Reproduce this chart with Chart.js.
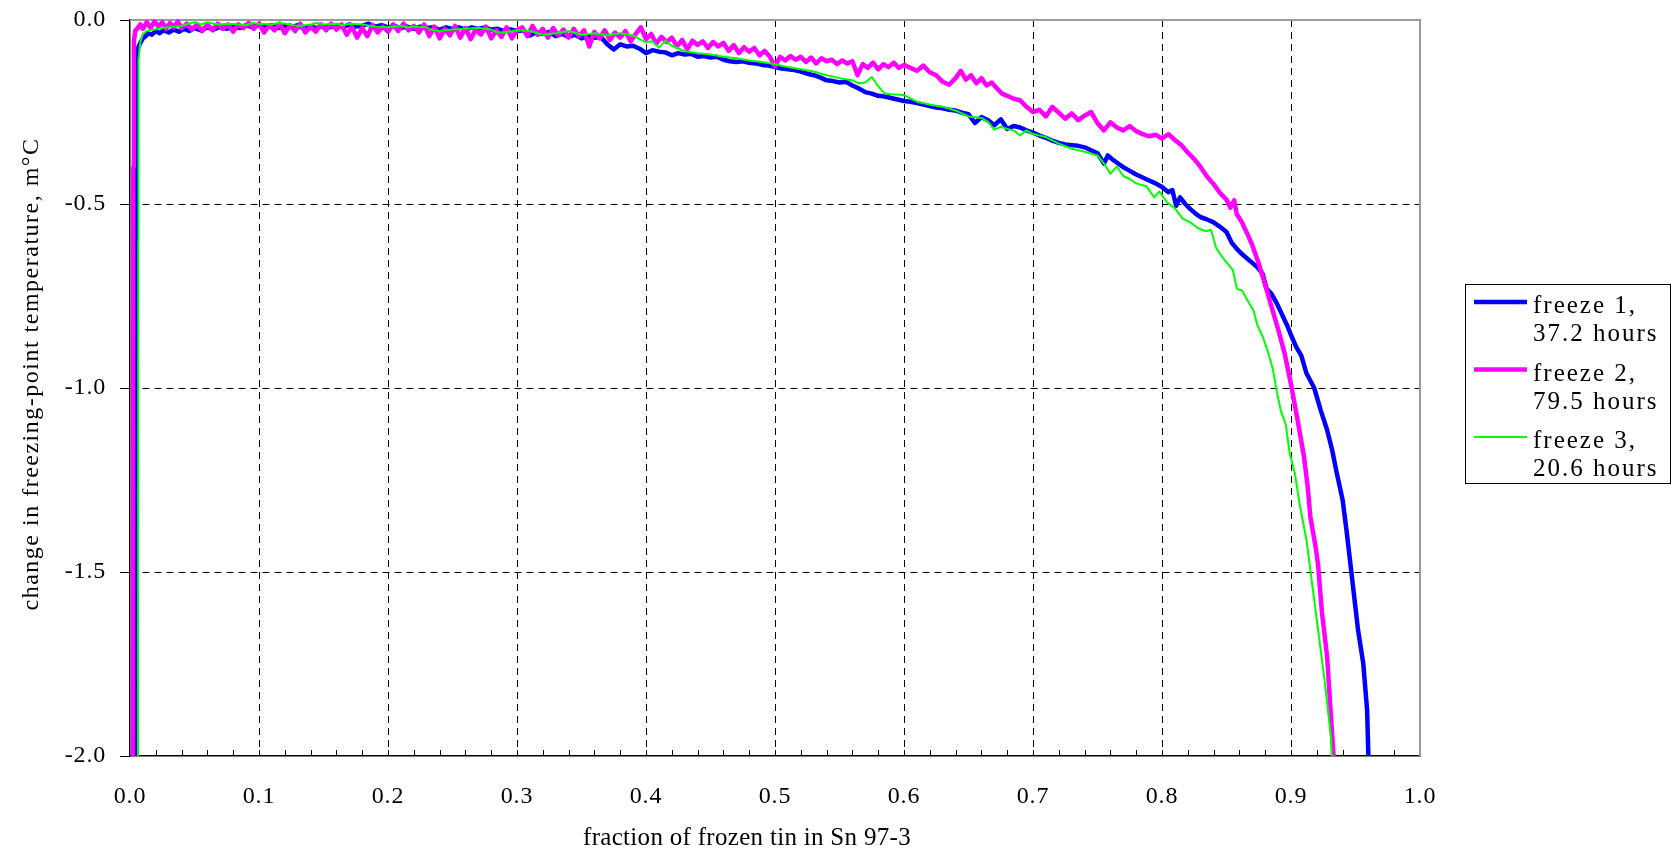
<!DOCTYPE html>
<html>
<head>
<meta charset="utf-8">
<script src="https://cdn.jsdelivr.net/npm/chart.js@4.4.1/dist/chart.umd.min.js"></script>
<style>
	html, body { margin: 0; padding: 0; background: #fff; }
	#wrap { width: 1675px; height: 855px; }
</style>
</head>
<body>
<div id="wrap"><canvas id="freezeChart" width="1675" height="855"></canvas></div>
<script>
"use strict"

// freeze 1, 37.2 hours  [fraction frozen, change in mK]
const freeze1 = [
	[0.0045,-2.1],[0.0047,-0.6],[0.005,-0.12],[0.0055,-0.085],[0.006,-0.078],[0.008,-0.062],[0.010,-0.05],[0.012,-0.044],
	[0.014,-0.036],[0.017,-0.04],[0.020,-0.03],[0.023,-0.036],[0.026,-0.028],[0.030,-0.034],[0.034,-0.026],[0.038,-0.032],
	[0.042,-0.024],[0.046,-0.03],[0.050,-0.022],[0.055,-0.028],[0.060,-0.02],[0.065,-0.026],[0.070,-0.018],[0.075,-0.024],
	[0.080,-0.016],[0.085,-0.022],[0.090,-0.014],[0.095,-0.02],[0.100,-0.012],[0.105,-0.018],[0.110,-0.014],[0.115,-0.022],
	[0.120,-0.016],[0.125,-0.02],[0.130,-0.014],[0.135,-0.024],[0.140,-0.018],[0.145,-0.022],[0.150,-0.016],[0.155,-0.02],
	[0.160,-0.014],[0.165,-0.02],[0.170,-0.012],[0.175,-0.018],[0.180,-0.016],[0.185,-0.01],[0.190,-0.018],[0.195,-0.014],
	[0.200,-0.02],[0.205,-0.016],[0.210,-0.022],[0.215,-0.018],[0.220,-0.024],[0.225,-0.018],[0.230,-0.022],[0.235,-0.02],
	[0.240,-0.026],[0.245,-0.02],[0.250,-0.024],[0.255,-0.02],[0.260,-0.026],[0.265,-0.02],[0.270,-0.024],[0.275,-0.02],
	[0.280,-0.026],[0.285,-0.024],[0.290,-0.03],[0.295,-0.026],[0.300,-0.03],[0.305,-0.028],[0.310,-0.042],[0.315,-0.034],
	[0.320,-0.038],[0.325,-0.032],[0.330,-0.044],[0.335,-0.038],[0.340,-0.046],[0.345,-0.04],[0.350,-0.05],[0.355,-0.044],
	[0.360,-0.048],[0.365,-0.046],[0.370,-0.066],[0.375,-0.08],[0.380,-0.066],[0.385,-0.072],[0.390,-0.07],[0.395,-0.078],
	[0.400,-0.09],[0.405,-0.082],[0.410,-0.086],[0.415,-0.088],[0.420,-0.096],[0.425,-0.09],[0.430,-0.094],[0.435,-0.092],
	[0.440,-0.1],[0.445,-0.098],[0.450,-0.102],[0.455,-0.1],[0.460,-0.108],[0.465,-0.112],[0.470,-0.114],[0.475,-0.112],
	[0.480,-0.116],[0.485,-0.118],[0.490,-0.122],[0.495,-0.124],[0.500,-0.128],[0.505,-0.132],[0.510,-0.134],[0.515,-0.136],
	[0.520,-0.14],[0.525,-0.146],[0.530,-0.15],[0.535,-0.156],[0.540,-0.164],[0.545,-0.166],[0.550,-0.17],[0.555,-0.168],
	[0.560,-0.178],[0.565,-0.186],[0.570,-0.196],[0.575,-0.2],[0.580,-0.206],[0.585,-0.208],[0.590,-0.212],[0.595,-0.216],
	[0.600,-0.22],[0.605,-0.222],[0.610,-0.226],[0.615,-0.23],[0.620,-0.234],[0.625,-0.238],[0.630,-0.24],[0.635,-0.244],
	[0.640,-0.246],[0.645,-0.252],[0.650,-0.256],[0.655,-0.28],[0.660,-0.264],[0.665,-0.272],[0.670,-0.286],[0.675,-0.27],
	[0.680,-0.296],[0.685,-0.288],[0.690,-0.292],[0.695,-0.3],[0.700,-0.306],[0.705,-0.314],[0.710,-0.32],[0.715,-0.328],
	[0.720,-0.334],[0.725,-0.338],[0.730,-0.34],[0.735,-0.342],[0.740,-0.346],[0.745,-0.354],[0.750,-0.362],[0.755,-0.39],
	[0.758,-0.368],[0.762,-0.38],[0.766,-0.39],[0.770,-0.4],[0.775,-0.41],[0.780,-0.42],[0.785,-0.428],[0.790,-0.436],
	[0.795,-0.444],[0.800,-0.454],[0.805,-0.468],[0.808,-0.462],[0.811,-0.505],[0.814,-0.482],[0.818,-0.5],[0.822,-0.514],
	[0.826,-0.526],[0.830,-0.536],[0.835,-0.542],[0.840,-0.55],[0.845,-0.562],[0.850,-0.576],[0.854,-0.605],[0.858,-0.622],
	[0.862,-0.636],[0.866,-0.648],[0.870,-0.66],[0.874,-0.672],[0.878,-0.69],[0.881,-0.73],[0.885,-0.745],[0.889,-0.77],
	[0.893,-0.8],[0.897,-0.83],[0.900,-0.856],[0.904,-0.888],[0.908,-0.912],[0.912,-0.96],[0.918,-1.0],[0.923,-1.06],
	[0.928,-1.114],[0.932,-1.17],[0.935,-1.223],[0.940,-1.304],[0.943,-1.386],[0.946,-1.476],[0.949,-1.567],[0.952,-1.658],
	[0.956,-1.748],[0.959,-1.875],[0.960,-2.0],[0.961,-2.1],
]

// freeze 2, 79.5 hours
const freeze2 = [
	[0.0022,-2.1],[0.0025,-0.4],[0.003,-0.06],[0.004,-0.03],[0.006,-0.022],[0.008,-0.012],[0.010,-0.024],[0.013,-0.006],
	[0.016,-0.022],[0.019,-0.004],[0.022,-0.018],[0.025,-0.006],[0.028,-0.024],[0.031,-0.008],[0.034,-0.02],[0.037,-0.004],
	[0.040,-0.022],[0.044,-0.01],[0.048,-0.026],[0.052,-0.012],[0.056,-0.03],[0.060,-0.012],[0.064,-0.028],[0.068,-0.01],
	[0.072,-0.024],[0.076,-0.012],[0.080,-0.032],[0.084,-0.012],[0.088,-0.022],[0.092,-0.008],[0.096,-0.024],[0.100,-0.01],
	[0.104,-0.034],[0.108,-0.014],[0.112,-0.028],[0.116,-0.01],[0.120,-0.036],[0.124,-0.014],[0.128,-0.03],[0.132,-0.01],
	[0.136,-0.034],[0.140,-0.018],[0.144,-0.032],[0.148,-0.012],[0.152,-0.028],[0.156,-0.01],[0.160,-0.026],[0.164,-0.012],
	[0.168,-0.04],[0.172,-0.018],[0.176,-0.048],[0.180,-0.022],[0.184,-0.044],[0.188,-0.014],[0.192,-0.034],[0.196,-0.018],
	[0.200,-0.032],[0.204,-0.012],[0.208,-0.03],[0.212,-0.01],[0.216,-0.028],[0.220,-0.016],[0.224,-0.034],[0.228,-0.012],
	[0.232,-0.044],[0.236,-0.018],[0.240,-0.05],[0.244,-0.024],[0.248,-0.042],[0.252,-0.016],[0.256,-0.048],[0.260,-0.022],
	[0.264,-0.052],[0.268,-0.026],[0.272,-0.04],[0.276,-0.018],[0.280,-0.05],[0.284,-0.028],[0.288,-0.046],[0.292,-0.02],
	[0.296,-0.05],[0.300,-0.028],[0.304,-0.02],[0.308,-0.044],[0.312,-0.016],[0.316,-0.04],[0.320,-0.024],[0.324,-0.048],
	[0.328,-0.022],[0.332,-0.042],[0.336,-0.026],[0.340,-0.048],[0.344,-0.024],[0.348,-0.044],[0.352,-0.028],[0.356,-0.072],
	[0.360,-0.032],[0.364,-0.05],[0.368,-0.028],[0.372,-0.054],[0.376,-0.034],[0.380,-0.048],[0.384,-0.03],[0.388,-0.058],
	[0.392,-0.038],[0.396,-0.02],[0.400,-0.052],[0.404,-0.038],[0.408,-0.064],[0.412,-0.046],[0.416,-0.06],[0.420,-0.048],
	[0.424,-0.072],[0.428,-0.054],[0.432,-0.08],[0.436,-0.056],[0.440,-0.068],[0.444,-0.058],[0.448,-0.076],[0.452,-0.06],
	[0.456,-0.072],[0.460,-0.062],[0.464,-0.084],[0.468,-0.068],[0.472,-0.09],[0.476,-0.074],[0.480,-0.086],[0.484,-0.076],
	[0.488,-0.096],[0.492,-0.084],[0.496,-0.1],[0.500,-0.126],[0.504,-0.1],[0.508,-0.11],[0.512,-0.098],[0.516,-0.108],
	[0.520,-0.1],[0.524,-0.114],[0.528,-0.102],[0.532,-0.118],[0.536,-0.104],[0.540,-0.112],[0.544,-0.108],[0.548,-0.12],
	[0.552,-0.11],[0.556,-0.118],[0.560,-0.112],[0.564,-0.15],[0.568,-0.12],[0.572,-0.13],[0.576,-0.116],[0.580,-0.134],
	[0.584,-0.12],[0.588,-0.128],[0.592,-0.116],[0.596,-0.13],[0.600,-0.122],[0.605,-0.13],[0.610,-0.138],[0.615,-0.124],
	[0.620,-0.142],[0.625,-0.15],[0.630,-0.168],[0.635,-0.176],[0.640,-0.158],[0.644,-0.138],[0.648,-0.162],[0.652,-0.15],
	[0.656,-0.172],[0.660,-0.158],[0.664,-0.178],[0.668,-0.17],[0.672,-0.186],[0.676,-0.2],[0.680,-0.206],[0.685,-0.214],
	[0.690,-0.218],[0.695,-0.236],[0.700,-0.25],[0.705,-0.244],[0.710,-0.262],[0.715,-0.236],[0.720,-0.252],[0.725,-0.268],
	[0.730,-0.254],[0.735,-0.272],[0.740,-0.26],[0.745,-0.25],[0.750,-0.28],[0.755,-0.3],[0.760,-0.278],[0.765,-0.292],
	[0.770,-0.3],[0.775,-0.288],[0.780,-0.302],[0.785,-0.31],[0.790,-0.316],[0.795,-0.312],[0.800,-0.322],[0.805,-0.31],
	[0.810,-0.326],[0.815,-0.34],[0.820,-0.36],[0.825,-0.378],[0.830,-0.4],[0.835,-0.426],[0.840,-0.446],[0.845,-0.47],
	[0.850,-0.488],[0.853,-0.51],[0.856,-0.49],[0.858,-0.528],[0.862,-0.55],[0.866,-0.58],[0.870,-0.612],[0.875,-0.662],
	[0.880,-0.72],[0.885,-0.78],[0.890,-0.84],[0.895,-0.905],[0.900,-0.99],[0.905,-1.085],[0.910,-1.185],[0.913,-1.27],
	[0.915,-1.35],[0.919,-1.43],[0.921,-1.48],[0.924,-1.61],[0.928,-1.73],[0.930,-1.84],[0.933,-2.0],[0.935,-2.1],
]

// freeze 3, 20.6 hours
const freeze3 = [
	[0.0062,-2.1],[0.0064,-0.6],[0.0066,-0.11],[0.008,-0.06],[0.010,-0.038],[0.013,-0.03],[0.016,-0.027],[0.020,-0.025],
	[0.025,-0.022],[0.030,-0.02],[0.035,-0.018],[0.040,-0.016],[0.045,-0.01],[0.050,-0.006],[0.055,-0.012],[0.060,-0.006],
	[0.065,-0.01],[0.070,-0.012],[0.075,-0.01],[0.080,-0.011],[0.090,-0.014],[0.095,-0.008],[0.100,-0.01],[0.110,-0.012],
	[0.115,-0.008],[0.120,-0.01],[0.130,-0.016],[0.140,-0.012],[0.145,-0.008],[0.150,-0.012],[0.160,-0.01],[0.165,-0.014],
	[0.170,-0.01],[0.180,-0.012],[0.190,-0.018],[0.200,-0.02],[0.210,-0.016],[0.215,-0.02],[0.220,-0.018],[0.230,-0.02],
	[0.235,-0.028],[0.240,-0.03],[0.250,-0.026],[0.260,-0.024],[0.270,-0.022],[0.280,-0.026],[0.285,-0.034],[0.290,-0.034],
	[0.300,-0.028],[0.310,-0.03],[0.320,-0.04],[0.330,-0.036],[0.340,-0.03],[0.350,-0.04],[0.360,-0.036],[0.370,-0.042],
	[0.380,-0.036],[0.390,-0.042],[0.395,-0.052],[0.400,-0.06],[0.405,-0.058],[0.410,-0.075],[0.415,-0.056],[0.420,-0.07],
	[0.430,-0.085],[0.440,-0.09],[0.450,-0.094],[0.460,-0.1],[0.470,-0.104],[0.480,-0.11],[0.490,-0.114],[0.500,-0.12],
	[0.510,-0.128],[0.520,-0.134],[0.530,-0.14],[0.540,-0.15],[0.550,-0.158],[0.560,-0.164],[0.565,-0.172],[0.570,-0.17],
	[0.575,-0.155],[0.580,-0.18],[0.585,-0.2],[0.590,-0.202],[0.600,-0.204],[0.610,-0.222],[0.620,-0.23],[0.630,-0.236],
	[0.640,-0.246],[0.650,-0.262],[0.660,-0.266],[0.665,-0.276],[0.670,-0.298],[0.675,-0.29],[0.680,-0.296],[0.685,-0.3],
	[0.690,-0.314],[0.695,-0.3],[0.700,-0.31],[0.710,-0.318],[0.720,-0.336],[0.730,-0.35],[0.740,-0.358],[0.750,-0.368],
	[0.755,-0.39],[0.760,-0.418],[0.765,-0.398],[0.770,-0.424],[0.775,-0.432],[0.780,-0.444],[0.788,-0.452],[0.794,-0.482],
	[0.798,-0.466],[0.804,-0.496],[0.810,-0.512],[0.816,-0.54],[0.822,-0.55],[0.828,-0.566],[0.834,-0.574],[0.838,-0.57],
	[0.842,-0.62],[0.848,-0.65],[0.855,-0.68],[0.858,-0.73],[0.862,-0.735],[0.866,-0.76],[0.871,-0.79],[0.874,-0.83],
	[0.878,-0.86],[0.882,-0.9],[0.886,-0.95],[0.889,-1.01],[0.892,-1.06],[0.896,-1.1],[0.899,-1.178],[0.903,-1.232],
	[0.907,-1.322],[0.912,-1.413],[0.916,-1.522],[0.921,-1.658],[0.926,-1.793],[0.931,-1.95],[0.933,-2.1],
]

const seriesLabels = [["freeze 1,", "37.2 hours"], ["freeze 2,", "79.5 hours"], ["freeze 3,", "20.6 hours"]]
const seriesColors = ["#0000ff", "#ff00ff", "#00ff00"]
const seriesWidths = [4.5, 4.5, 2]
const xTitle = "fraction of frozen tin in Sn 97-3"
const yTitle = "change in freezing-point temperature, m\u00b0C"

const serif = "'Liberation Serif', 'Times New Roman', serif"

function isMajorX(v) {
	return Math.round(v * 50) % 5 === 0
}

// frame, inner ticks, titles and the boxed legend
const decor = {
	id: "decor",
	beforeDraw(chart) {
		chart.ctx.letterSpacing = "0.8px"
	},
	beforeDatasetsDraw(chart) {
		const { ctx, chartArea: a } = chart
		ctx.save()
		ctx.strokeStyle = "#9a9a9a"
		ctx.lineWidth = 2
		ctx.beginPath()
		ctx.moveTo(a.left, a.top)
		ctx.lineTo(a.right, a.top)
		ctx.lineTo(a.right, a.bottom)
		ctx.stroke()

		// small ticks pointing into the plot
		const xs = chart.scales.x
		ctx.strokeStyle = "#000"
		ctx.lineWidth = 1
		ctx.beginPath()
		xs.ticks.forEach((t) => {
			if (t.value <= 0 || t.value >= 1) return
			const px = Math.round(xs.getPixelForValue(t.value)) + 0.5
			ctx.moveTo(px, a.bottom)
			ctx.lineTo(px, a.bottom - 6)
		})
		ctx.stroke()
		ctx.restore()
	},
	afterDraw(chart) {
		const { ctx } = chart
		ctx.save()
		ctx.fillStyle = "#000"
		ctx.letterSpacing = "0.3px"
		ctx.font = "25px " + serif
		ctx.textAlign = "center"
		ctx.textBaseline = "middle"
		ctx.fillText(xTitle, 747, 838)

		ctx.letterSpacing = "1.5px"
		ctx.font = "24px " + serif
		ctx.translate(32, 374)
		ctx.rotate(-Math.PI / 2)
		ctx.fillText(yTitle, 0, 0)
		ctx.restore()

		// legend
		ctx.save()
		ctx.strokeStyle = "#000"
		ctx.lineWidth = 1
		ctx.strokeRect(1465.5, 284.5, 205, 199)
		ctx.font = "25px " + serif
		ctx.letterSpacing = "2px"
		ctx.textAlign = "left"
		ctx.textBaseline = "alphabetic"
		chart.data.datasets.forEach((ds, i) => {
			const y0 = 302 + i * 67.5
			ctx.strokeStyle = ds.borderColor
			ctx.lineWidth = ds.borderWidth
			ctx.beginPath()
			ctx.moveTo(1474, y0)
			ctx.lineTo(1527, y0)
			ctx.stroke()
			ctx.fillStyle = "#000"
			seriesLabels[i].forEach((line, j) => {
				ctx.fillText(line, 1533, y0 + 11 + j * 28)
			})
		})
		ctx.restore()
	},
}

const ctx = document.getElementById("freezeChart")
const myChart = new Chart(ctx, {
	type: "line",
	data: {
		datasets: [freeze1, freeze2, freeze3].map((pts, i) => ({
			label: seriesLabels[i].join(" "),
			data: pts.map((p) => ({ x: p[0], y: p[1] })),
			borderColor: seriesColors[i],
			borderWidth: seriesWidths[i],
			pointRadius: 0,
			tension: 0,
			fill: false,
			borderJoinStyle: "round",
			borderCapStyle: "round",
			order: 3 - i,
			clip: { left: 0, top: 3, right: 0, bottom: 0 },
		})),
	},
	options: {
		responsive: false,
		devicePixelRatio: 1,
		animation: false,
		layout: {
			padding: { left: 0, top: 20, right: 255, bottom: 0 },
		},
		plugins: {
			legend: { display: false },
			tooltip: { enabled: false },
		},
		scales: {
			x: {
				type: "linear",
				min: 0,
				max: 1,
				afterFit: (s) => {
					s.height = 99
				},
				ticks: {
					stepSize: 0.02,
					autoSkip: false,
					maxRotation: 0,
					padding: 26,
					color: "#000",
					font: { family: serif, size: 24 },
					callback: (v) => (isMajorX(v) ? v.toFixed(1) : ""),
				},
				grid: {
					color: (c) => (c.tick && isMajorX(c.tick.value) && c.tick.value > 0.01 && c.tick.value < 0.99 ? "#000" : "rgba(0,0,0,0)"),
					lineWidth: 1,
					drawTicks: false,
				},
				border: { display: true, color: "#000", width: 1.5, dash: [7, 5] },
			},
			y: {
				min: -2,
				max: 0,
				afterFit: (s) => {
					s.width = 130
					s.paddingTop = 0
					s.paddingBottom = 0
				},
				ticks: {
					stepSize: 0.5,
					padding: 14,
					color: "#000",
					font: { family: serif, size: 24 },
					callback: (v) => v.toFixed(1),
				},
				grid: {
					color: (c) => (c.tick && c.tick.value > -1.99 && c.tick.value < -0.01 ? "#000" : "rgba(0,0,0,0)"),
					lineWidth: 1,
					tickColor: "#000",
					tickLength: 10,
					tickBorderDash: [],
				},
				border: { display: true, color: "#000", width: 1.5, dash: [7, 5] },
			},
		},
	},
	plugins: [decor],
})
</script>
</body>
</html>
